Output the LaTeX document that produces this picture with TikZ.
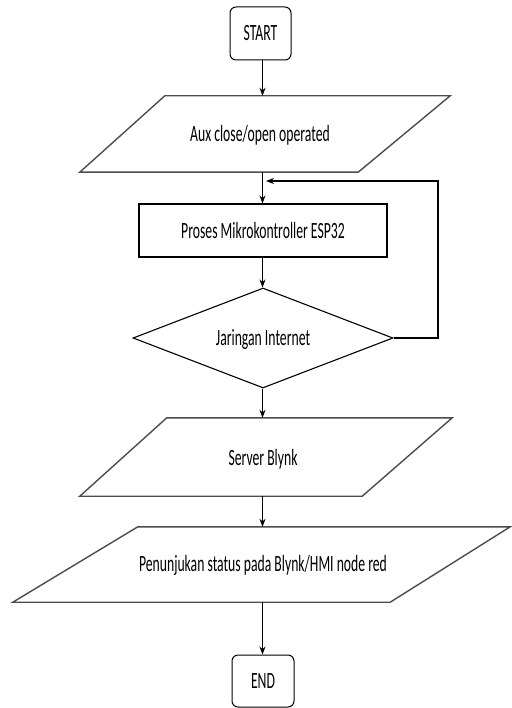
\documentclass[tikz,border=0pt]{standalone}
\usepackage{fontspec}
\setmainfont{Carlito}
\usepackage{graphicx}
\usetikzlibrary{shapes.geometric,arrows.meta,calc}
\newcommand{\vtxt}[1]{\scalebox{1}[1.7]{#1}}
\tikzset{
  lbl/.style={font=\fontsize{13.7}{16}\selectfont, text=black, inner sep=0pt},
  term/.style={draw=black, line width=1pt, rounded corners=6pt, fill=white, inner sep=0pt},
  iobox/.style={draw=none, inner sep=0pt},
  ioline/.style={draw=black!70, line width=1.4pt, line join=miter},
  procbox/.style={draw=black, line width=1.1pt, inner sep=0pt},
  decbox/.style={draw=black, line width=1.1pt, shape=diamond, inner sep=0pt},
  conn/.style={draw=black, line width=1.1pt, -{Stealth[length=8pt,width=6pt]}}
}
\begin{document}
\begin{tikzpicture}[x=1pt,y=-1pt]
\useasboundingbox (0,0) rectangle (511,708);
% terminals
\node[term, minimum width=61pt, minimum height=53pt] (start) at (260.5,33.5) {};
\node[lbl] at (start.center) {\vtxt{START}};
\node[term, minimum width=62pt, minimum height=52pt] (end) at (263,681) {};
\node[lbl] at (end.center) {\vtxt{END}};
% input 1
\node[iobox, minimum width=370pt, minimum height=76pt] (in1) at (265,134) {};
\draw[ioline] (in1.south west) -- ([xshift=85pt]in1.north west) -- (in1.north east) -- ([xshift=-92pt]in1.south east) -- cycle;
\node[lbl] (in1t) at (260,135) {\vtxt{Aux close/open operated}};
% process
\node[procbox, minimum width=248pt, minimum height=53pt] (proc) at (263,230.5) {};
\node[lbl] at (263,231) {\vtxt{Proses Mikrokontroller ESP32}};
% decision
\node[decbox, minimum width=260pt, minimum height=100pt] (dec) at (263,338) {};
\node[lbl] at (263,339) {\vtxt{Jaringan Internet}};
% server
\node[iobox, minimum width=372pt, minimum height=78pt] (srv) at (266,457) {};
\draw[ioline] (srv.south west) -- ([xshift=87pt]srv.north west) -- (srv.north east) -- ([xshift=-90pt]srv.south east) -- cycle;
\node[lbl] at (263,459) {\vtxt{Server Blynk}};
% output
\node[iobox, minimum width=497pt, minimum height=75pt] (out) at (261.5,564.5) {};
\draw[ioline] (out.south west) -- ([xshift=125pt]out.north west) -- (out.north east) -- ([xshift=-120pt]out.south east) -- cycle;
\node[lbl] at (263,565) {\vtxt{Penunjukan status pada Blynk/HMI node red}};
% connectors
\coordinate (col) at (262.5,0);
\draw[conn] (start.south -| col) -- (in1.north -| col);
\draw[conn] (in1.south -| col) -- (proc.north -| col);
\draw[conn] (proc.south -| col) -- (dec.north -| col);
\draw[conn] (dec.south -| col) -- (srv.north -| col);
\draw[conn] (srv.south -| col) -- (out.north -| col);
\draw[conn] (out.south -| col) -- (end.north -| col);
\coordinate (fbR) at (438,181);
\coordinate (fbL) at (266,181);
\draw[conn] (dec.east) -| (fbR) -- (fbL);
\end{tikzpicture}
\end{document}
